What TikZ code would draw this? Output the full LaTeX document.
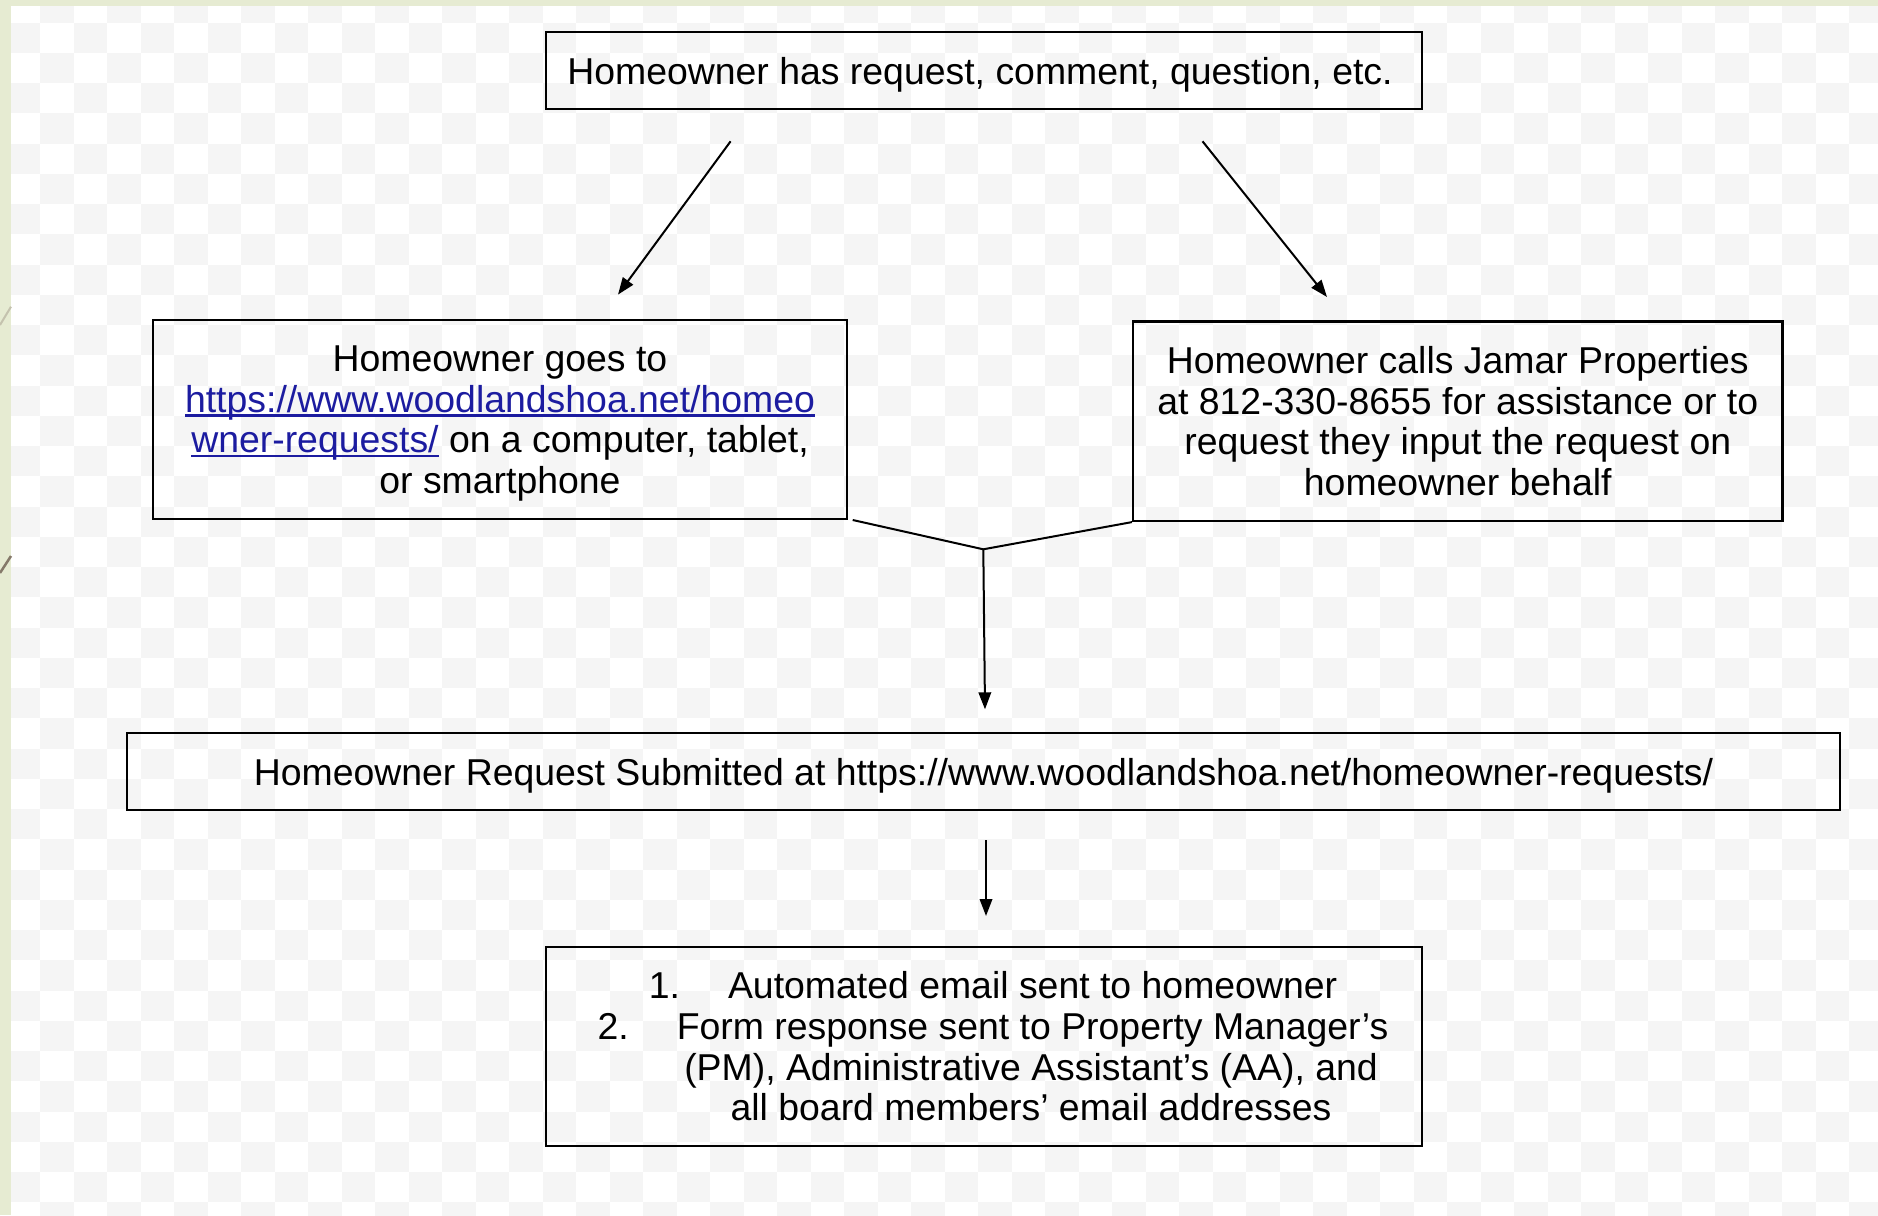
\documentclass[tikz,border=0pt]{standalone}
\usepackage{fontspec}
\setmainfont{Liberation Sans}
\usetikzlibrary{arrows.meta}
\definecolor{grn}{HTML}{E6EBD2}
\definecolor{chk}{HTML}{F5F5F5}
\definecolor{lnk}{HTML}{1C1CA0}
\definecolor{decoA}{HTML}{C4C2AE}
\definecolor{decoB}{HTML}{85796A}
\newcommand\mylink[1]{{\color{lnk}\setbox0\hbox{#1}\rlap{\rule[-4.5pt]{\wd0}{2.4pt}}\box0}}
\newcommand\nodepth[1]{\raisebox{0pt}[\height][0pt]{#1}}
\begin{document}
\begin{tikzpicture}[x=1pt,y=-1pt,
  box/.style={draw=black, line width=2.2pt, inner sep=0pt, align=center,
    font=\fontsize{37.4}{40.7}\selectfont},
  conn/.style={line width=2pt, draw=black},
  arr/.style={conn, -{Triangle[length=17pt,width=12.5pt]}}]
\useasboundingbox (0,0) rectangle (1878,1215);
% background
\fill[white] (0,0) rectangle (1878,1215);
\foreach \j in {0,...,40}{
  \pgfmathtruncatemacro\st{mod(\j+1,2)}
  \foreach \k in {0,...,27}{
    \pgfmathsetmacro\xa{6.5+33.5*(2*\k+\st)}
    \pgfmathsetmacro\ya{-7.55+30.25*\j}
    \fill[chk] (\xa,\ya) rectangle ++(33.5,30.25);
  }
}
\fill[grn] (0,0) rectangle (11,1215);
\fill[grn] (0,0) rectangle (1878,6);
\draw[decoA, line width=2pt] (0,325) -- (11,306.7);
\draw[decoB, line width=2.5pt] (0,573) -- (11,556);

% nodes
\node[box, minimum width=876pt, minimum height=77pt] (top) at (984,70.5)
  {\nodepth{Homeowner has request, comment, question, etc.}\hspace*{8pt}};
\node[box, minimum width=694pt, minimum height=199pt] (left) at (500,419.5)
  {Homeowner goes to\\
   \mylink{https://www.woodlandshoa.net/homeo}\\
   \mylink{wner-requests/} on a computer, tablet,\\
   \nodepth{or smartphone}};
\node[box, minimum width=649.5pt, minimum height=199.5pt] (right) at (1457.75,421.25)
  {Homeowner calls Jamar Properties\\
   at 812-330-8655 for assistance or to\\
   request they input the request on\\
   homeowner behalf};
\node[box, minimum width=1713pt, minimum height=77pt] (mid) at (983.5,771.5)
  {\nodepth{Homeowner Request Submitted at https://www.woodlandshoa.net/homeowner-requests/}};
\node[box, minimum width=876pt, minimum height=199.3pt] (bot) at (984,1046.3)
  {\hspace*{18pt}1.\hspace{48pt}Automated email sent to homeowner\\
   \hspace*{18pt}2.\hspace{48pt}Form response sent to Property Manager’s\\
   \hspace*{94pt}(PM), Administrative Assistant’s (AA), and\\
   \hspace*{94pt}all board members’ email addresses};

% connector points
\coordinate (a1s) at (730.6,141.3);
\coordinate (a1e) at (618,294.6);
\coordinate (a2s) at (1202.5,141.3);
\coordinate (a2e) at (1327,297);
\coordinate (ls) at (852.7,520);
\coordinate (jn) at (983.3,549.3);
\coordinate (me) at (985,709.3);
\coordinate (bs) at (986,840);
\coordinate (be) at (986,916);

\draw[arr] (a1s) -- (a1e);
\draw[arr] (a2s) -- (a2e);
\draw[conn] (ls) -- (jn) -- (right.south west);
\draw[arr] (jn) -- (me);
\draw[arr] (bs) -- (be);
\end{tikzpicture}
\end{document}
